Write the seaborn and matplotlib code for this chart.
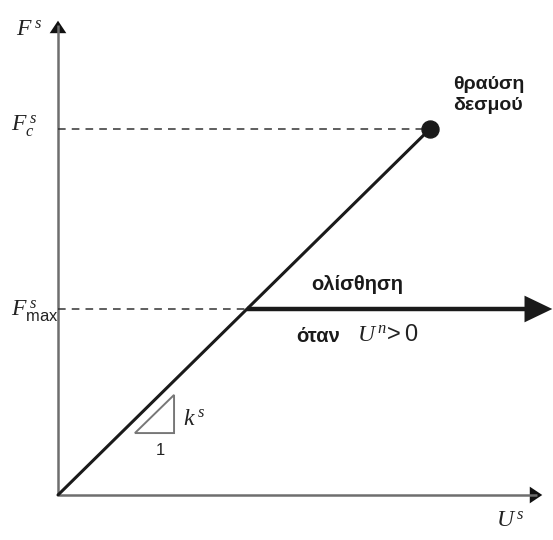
import matplotlib
matplotlib.use("Agg")
import matplotlib.pyplot as plt
import seaborn as sns
import pandas as pd
from matplotlib.patches import FancyArrowPatch, Polygon

sns.set_theme(style="white")
plt.rcParams["font.family"] = ["Liberation Sans", "DejaVu Sans"]
plt.rcParams["mathtext.fontset"] = "custom"
plt.rcParams["mathtext.rm"] = "Liberation Serif"
plt.rcParams["mathtext.it"] = "Liberation Serif:italic"
plt.rcParams["mathtext.sf"] = "Liberation Sans"

# Shear force-displacement law of a bond (normalised units, k^s = 1)
k_s = 1.0
F_max = 1.0          # sliding threshold
U_c = 1.97           # displacement at bond breakage
F_c = k_s * U_c      # breakage force
U_axis_end = 2.577
F_axis_end = 2.565
U_slide_end = 2.63

elastic = pd.DataFrame({"U": [0.0, U_c], "F": [0.0, F_c]})
breakage = pd.DataFrame({"U": [U_c], "F": [F_c]})

fig = plt.figure(figsize=(5.53, 5.40), dpi=100)
ax = fig.add_axes([0, 0, 1, 1])
ax.set_xlim(-58 / 189, 495 / 189)
ax.set_ylim(-45 / 186, 495 / 186)
ax.set_axis_off()

# axes with arrowheads
ax.plot([0, U_axis_end - 0.04], [0, 0], color="#6e6e6e", lw=1.8, solid_capstyle="butt")
ax.plot([0, 0], [0, F_axis_end - 0.04], color="#6e6e6e", lw=1.8, solid_capstyle="butt")
ax.add_patch(FancyArrowPatch((U_axis_end - 0.08, 0), (U_axis_end, 0),
                             arrowstyle="-|>,head_length=4.5,head_width=3",
                             color="#111111", lw=0, mutation_scale=2))
ax.add_patch(FancyArrowPatch((0, F_axis_end - 0.08), (0, F_axis_end),
                             arrowstyle="-|>,head_length=4.5,head_width=3",
                             color="#111111", lw=0, mutation_scale=2))

# dashed reference levels
ax.plot([0, U_c], [F_c, F_c], color="#333333", lw=1.1, ls=(0, (5, 4)))
ax.plot([0, F_max / k_s], [F_max, F_max], color="#333333", lw=1.1, ls=(0, (5, 4)))

# elastic branch up to breakage
sns.lineplot(data=elastic, x="U", y="F", ax=ax, color="#1a1a1a", lw=2.2, legend=False)
sns.scatterplot(data=breakage, x="U", y="F", ax=ax, color="#1a1a1a", s=150,
                edgecolor="#1a1a1a", zorder=5, legend=False)

# sliding branch
ax.plot([F_max / k_s, U_slide_end - 0.1], [F_max, F_max], color="#1a1a1a", lw=3.2,
        solid_capstyle="butt")
ax.add_patch(FancyArrowPatch((U_slide_end - 0.2, F_max), (U_slide_end, F_max),
                             arrowstyle="-|>,head_length=10,head_width=4.8",
                             color="#1a1a1a", lw=0, mutation_scale=2))

# stiffness triangle
ax.add_patch(Polygon([[0.407, 0.333], [0.614, 0.333], [0.614, 0.538]], closed=True,
                     fill=False, edgecolor="#777777", lw=1.4))
ax.text(0.66, 0.41, r"$k^{\,s}$", fontsize=17, ha="left", va="center", color="#222222")
ax.text(0.54, 0.24, "1", fontsize=12, ha="center", va="center", color="#222222")

# axis labels
ax.text(-0.22, 2.5, r"$F^{\,s}$", fontsize=17, ha="left", va="center", color="#222222")
ax.text(-0.25, 1.98, r"$F^{\,s}_{c}$", fontsize=17, ha="left", va="center", color="#222222")
ax.text(-0.25, 0.99, r"$F^{\,s}_{\mathsf{max}}$", fontsize=17, ha="left", va="center",
        color="#222222")
ax.text(2.32, -0.14, r"$U^{\,s}$", fontsize=17, ha="left", va="center", color="#222222")

# annotations
ax.text(2.09, 2.15, "θραύση\nδεσμού", fontsize=14, fontweight="bold", ha="left",
        va="center", color="#1a1a1a", linespacing=1.3)
ax.text(1.34, 1.13, "ολίσθηση", fontsize=14.5, fontweight="bold", ha="left",
        va="center", color="#1a1a1a")
ax.text(1.26, 0.85, "όταν", fontsize=14.5, fontweight="bold", ha="left",
        va="center", color="#1a1a1a")
ax.text(1.58, 0.86, r"$U^{\,n}\!\mathsf{>0}$", fontsize=17, ha="left", va="center",
        color="#222222")

fig.savefig("out.png", dpi=100)
